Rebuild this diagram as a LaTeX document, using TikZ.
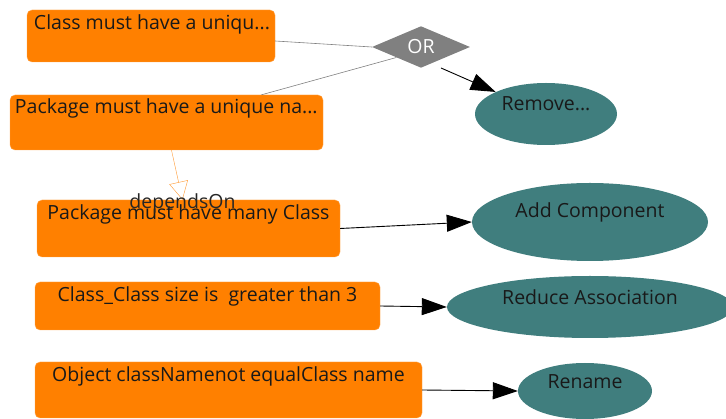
\documentclass[tikz,border=0pt]{standalone}
\usepackage{fontspec}
\setmainfont{Open Sans}
\usetikzlibrary{shapes.geometric,arrows.meta}
\definecolor{rulebox}{RGB}{255,128,0}
\definecolor{fixnode}{RGB}{64,126,126}
\definecolor{gatefill}{RGB}{128,128,128}
\definecolor{txt}{RGB}{25,25,25}

\begin{document}
\begin{tikzpicture}[x=1pt,y=-1pt,
    font=\fontsize{19.5}{23}\selectfont,text=txt,
    rule/.style={rectangle,rounded corners=5pt,fill=rulebox,draw=rulebox!70!white,inner sep=0pt},
    toptext/.style={anchor=north,inner sep=0pt,yshift=-5pt},
    lefttext/.style={anchor=north west,inner sep=0pt,yshift=-5pt},
    fix/.style={ellipse,fill=fixnode,inner sep=0pt},
    gate/.style={diamond,fill=gatefill,inner sep=0pt,minimum width=98pt,minimum height=38pt,text=white},
    link/.style={draw=gray,line width=0.6pt},
    action/.style={-{Triangle[length=25pt,width=17pt]},draw=black,line width=0.9pt},
    depends/.style={-{Triangle[open,length=18pt,width=19pt]},draw=rulebox!80!white}]
    \useasboundingbox (0,0) rectangle (726,419);

    % conditions
    \node[rule,minimum width=248pt,minimum height=52pt,
          label={[lefttext,xshift=7pt]north west:Class must have a uniqu...}] (cls) at (151,36) {};
    \node[rule,minimum width=313pt,minimum height=55pt,
          label={[lefttext,xshift=5pt,yshift=1pt]north west:Package must have a unique na...}] (pkg) at (166.5,122.5) {};
    \node[rule,minimum width=303pt,minimum height=57pt,
          label={[toptext]north:Package must have many Class}] (many) at (188.5,228.5) {};
    \node[rule,minimum width=345pt,minimum height=48pt,
          label={[toptext]north:Class\_Class size is\ \ greater than 3}] (size) at (207.5,306) {};
    \node[rule,minimum width=387pt,minimum height=56pt,
          label={[toptext]north:Object classNamenot equalClass name}] (obj) at (228.5,390) {};

    \node[gate] (or) at (421,47) {OR};

    % refactorings
    \node[fix,minimum width=142pt,minimum height=62pt,label={[yshift=10pt]center:Remove...}] (rem) at (546,114) {};
    \node[fix,minimum width=236pt,minimum height=78pt,label={[yshift=10pt]center:Add Component}] (add) at (590,222) {};
    \node[fix,minimum width=286pt,minimum height=62pt,label={[yshift=10pt]center:Reduce Association}] (red) at (590,307) {};
    \node[fix,minimum width=134pt,minimum height=56pt,label={[yshift=9pt]center:Rename}] (ren) at (585,391) {};

    \draw[link] ([yshift=-5pt]cls.east) -- (or.west);
    \draw[link] ([xshift=95pt]pkg.north) -- (or.south west);
    \draw[depends] ([xshift=5pt]pkg.south) -- ([xshift=-6pt]many.north)
        node[at end,yshift=-4pt,text=black!85]{dependsOn};

    \draw[action] ([xshift=20pt]or.south) -- (rem.north west);
    \draw[action] (many.east) -- (add.west);
    \draw[action] (size.east) -- (red.west);
    \draw[action] (obj.east) -- (ren.west);
\end{tikzpicture}
\end{document}
